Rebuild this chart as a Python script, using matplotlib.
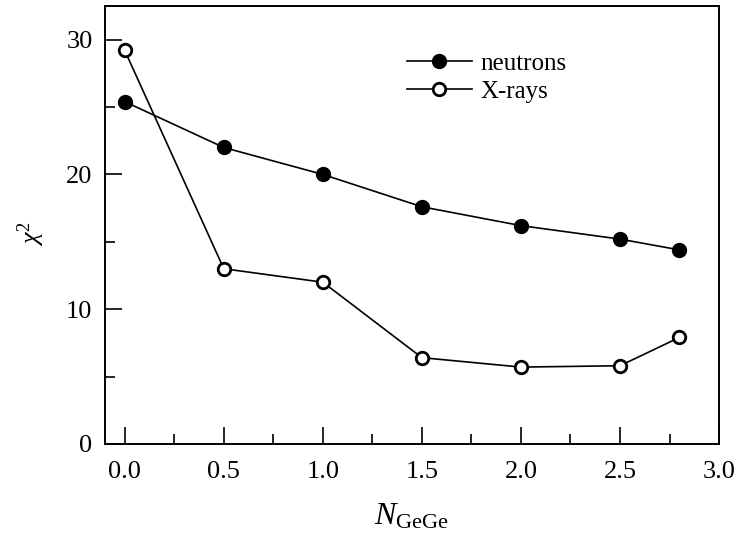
import numpy as np
import matplotlib.pyplot as plt
from matplotlib.ticker import MultipleLocator

plt.rcParams['font.family'] = ['Liberation Serif', 'DejaVu Serif']
plt.rcParams['mathtext.fontset'] = 'custom'
plt.rcParams['mathtext.rm'] = 'Liberation Serif'
plt.rcParams['mathtext.it'] = 'Liberation Serif:italic'

# Data
n_gege = [0.0, 0.5, 1.0, 1.5, 2.0, 2.5, 2.8]
chi2_neutrons = [25.4, 22.0, 20.0, 17.6, 16.2, 15.2, 14.4]
chi2_xrays = [29.2, 13.0, 12.0, 6.4, 5.7, 5.8, 7.9]

fig = plt.figure(figsize=(7.39, 5.48), dpi=100)
ax = fig.add_axes([0.142, 0.190, 0.831, 0.799])

ax.plot(n_gege, chi2_neutrons, color='black', linewidth=1.2,
        marker='o', markersize=10, markerfacecolor='black',
        markeredgecolor='black', label='neutrons')
ax.plot(n_gege, chi2_xrays, color='black', linewidth=1.2,
        marker='o', markersize=9, markerfacecolor='white',
        markeredgecolor='black', markeredgewidth=2, label='X-rays')

ax.set_xlim(-0.1, 3.0)
ax.set_ylim(0, 32.5)

ax.xaxis.set_major_locator(MultipleLocator(0.5))
ax.xaxis.set_minor_locator(MultipleLocator(0.25))
ax.yaxis.set_major_locator(MultipleLocator(10))
ax.yaxis.set_minor_locator(MultipleLocator(5))
ax.xaxis.set_major_formatter(plt.FormatStrFormatter('%.1f'))

ax.tick_params(which='both', direction='in', top=False, right=False,
               labelsize=19, width=1.2)
ax.tick_params(axis='x', which='major', length=12, pad=12)
ax.tick_params(axis='y', which='major', length=12, pad=9)
ax.tick_params(which='minor', length=7)
for s in ax.spines.values():
    s.set_linewidth(1.4)

ax.set_xlabel(r'$N_{\mathrm{GeGe}}$', fontsize=23, labelpad=14)
ax.set_ylabel(r'$\chi^2$', fontsize=19)
ax.yaxis.set_label_coords(-0.095, 0.48)

ax.legend(loc='upper left', bbox_to_anchor=(0.455, 0.945), frameon=False,
          fontsize=18, handlelength=2.6, handletextpad=0.35,
          labelspacing=0.2)

fig.savefig('out.png', dpi=100)
